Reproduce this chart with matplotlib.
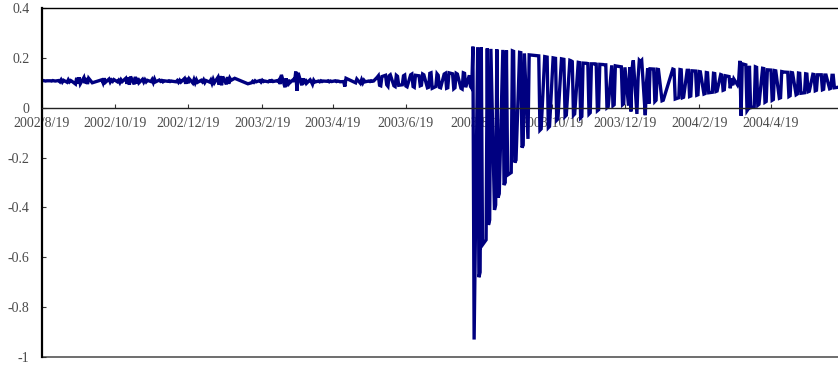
import matplotlib
matplotlib.use('Agg')
import matplotlib.pyplot as plt
import pandas as pd

# ---- data: business-day series, split where the market was closed ----
seg_starts = ['2002-08-19', '2002-10-08', '2003-02-07', '2003-05-08',
              '2003-10-08', '2004-01-28', '2004-05-03']

seg1 = [0.108, 0.109, 0.108, 0.107, 0.108,
        0.108, 0.107, 0.109, 0.108, 0.107,
        0.109, 0.104, 0.112, 0.103, 0.110,
        0.102, 0.112, 0.104, 0.109, 0.106,
        0.095, 0.120, 0.097, 0.122, 0.096,
        0.121, 0.098, 0.119, 0.095, 0.118,
        0.100]

seg2 = [0.112, 0.100, 0.118, 0.102,
        0.115, 0.103, 0.111, 0.106, 0.113,
        0.104, 0.110, 0.101, 0.112, 0.105,
        0.118, 0.096, 0.122, 0.092, 0.125,
        0.094, 0.124, 0.097, 0.119, 0.100,
        0.114, 0.103, 0.112, 0.104, 0.110,
        0.105, 0.113, 0.101, 0.115, 0.104,
        0.111, 0.106, 0.109, 0.104, 0.108,
        0.106, 0.108, 0.105, 0.107, 0.106,
        0.104, 0.109, 0.102, 0.110, 0.103,
        0.117, 0.096, 0.120, 0.098, 0.116,
        0.099, 0.113, 0.100, 0.112, 0.102,
        0.110, 0.104, 0.112, 0.101, 0.109,
        0.103, 0.111, 0.098, 0.113, 0.100,
        0.122, 0.092, 0.127, 0.090, 0.125,
        0.094, 0.123, 0.096, 0.118, 0.110,
        0.118]

seg3 = [0.096,
        0.100, 0.106, 0.102, 0.108, 0.104,
        0.109, 0.103, 0.110, 0.105, 0.107,
        0.104, 0.108, 0.106, 0.109, 0.105,
        0.108, 0.106, 0.112, 0.095, 0.132,
        0.082, 0.118, 0.086, 0.112, 0.100,
        0.113, 0.104, 0.145, 0.068, 0.140,
        0.090, 0.118, 0.095, 0.115, 0.098,
        0.112, 0.104, 0.094, 0.110, 0.103,
        0.107, 0.104, 0.108, 0.105, 0.107,
        0.106, 0.108, 0.104, 0.107, 0.105,
        0.108, 0.105, 0.107, 0.106, 0.104,
        0.105, 0.085, 0.118]

seg4 = [0.100, 0.115,
        0.098, 0.112, 0.100, 0.110, 0.104,
        0.107, 0.105, 0.108, 0.106, 0.107,
        0.122, 0.128, 0.090, 0.088, 0.125,
        0.130, 0.092, 0.086, 0.128, 0.132,
        0.088, 0.085, 0.130, 0.126, 0.090,
        0.092, 0.128, 0.131, 0.087, 0.084,
        0.132, 0.135, 0.085, 0.082, 0.130,
        0.128, 0.088, 0.090, 0.135, 0.132,
        0.080, 0.082, 0.138, 0.140, 0.078,
        0.085, 0.136, 0.130, 0.082, 0.080,
        0.135, 0.138, 0.078, 0.080, 0.140,
        0.136, 0.076, 0.080, 0.138, 0.135,
        0.078, 0.075, 0.140, 0.138, 0.082,
        0.130, 0.085, 0.078, 0.245, -0.930,
        0.243, -0.680, -0.660, 0.242, -0.550,
        -0.530, 0.238, -0.470, -0.450, 0.236,
        -0.410, -0.390, 0.234, -0.360, -0.345,
        0.232, -0.310, -0.300, 0.230, -0.270,
        -0.260, 0.228, 0.226, -0.220, -0.210,
        0.222, 0.221, -0.160, -0.150, 0.218,
        -0.125, 0.212]

seg5 = [0.208, -0.090, -0.085,
        0.205, 0.204, 0.203, -0.080, -0.075,
        0.200, 0.199, 0.198, -0.050, -0.045,
        0.196, 0.195, 0.194, -0.035, -0.030,
        0.190, 0.188, 0.185, -0.030, -0.025,
        0.182, 0.181, -0.040, -0.035, 0.179,
        0.178, 0.177, -0.025, -0.020, 0.176,
        0.176, 0.175, -0.012, -0.008, 0.174,
        0.173, 0.172, 0.172, 0.000, 0.004,
        0.170, 0.008, 0.012, 0.168, 0.167,
        0.165, 0.164, 0.012, 0.016, 0.162,
        0.008, 0.162, -0.015, 0.160, 0.190,
        -0.025, 0.120, 0.190, 0.185, 0.190,
        -0.030, 0.100, 0.158, 0.016, 0.156,
        0.155, 0.025, 0.030, 0.154, 0.153,
        0.028, 0.030]

seg6 = [0.155, 0.153, 0.035,
        0.040, 0.153, 0.152, 0.040, 0.042,
        0.150, 0.150, 0.045, 0.047, 0.148,
        0.147, 0.050, 0.052, 0.145, 0.144,
        0.055, 0.057, 0.141, 0.140, 0.060,
        0.062, 0.138, 0.137, 0.065, 0.067,
        0.133, 0.131, 0.070, 0.072, 0.128,
        0.125, 0.078, 0.118, 0.090, 0.115,
        0.092, 0.110, 0.188, -0.032, 0.176,
        0.172, -0.012, -0.005, 0.168, 0.000,
        0.004, 0.164, 0.162, 0.010, 0.014,
        0.158, 0.157, 0.022, 0.025, 0.152,
        0.151, 0.030, 0.033, 0.149, 0.148,
        0.038, 0.040, 0.145, 0.144, 0.143]

seg7 = [0.142, 0.045, 0.048, 0.141, 0.140,
        0.052, 0.055, 0.139, 0.138, 0.058,
        0.060, 0.136, 0.135, 0.064, 0.066,
        0.134, 0.133, 0.068, 0.070, 0.132,
        0.132, 0.072, 0.074, 0.131, 0.131,
        0.076, 0.078, 0.130, 0.130, 0.080,
        0.082]

segments = [seg1, seg2, seg3, seg4, seg5, seg6, seg7]

tick_dates = ['2002-08-19', '2002-10-19', '2002-12-19', '2003-02-19',
              '2003-04-19', '2003-06-19', '2003-08-19', '2003-10-19',
              '2003-12-19', '2004-02-19', '2004-04-19']
tick_labels = ['2002/8/19', '2002/10/19', '2002/12/19', '2003/2/19',
               '2003/4/19', '2003/6/19', '2003/8/19', '2003/10/19',
               '2003/12/19', '2004/2/19', '2004/4/19']
y_ticks = [-1, -0.8, -0.6, -0.4, -0.2, 0, 0.2, 0.4]
y_labels = ['-1', '-0.8', '-0.6', '-0.4', '-0.2', '0', '0.2', '0.4']

# ---- build series ----
dates, values = [], []
for start, vals in zip(seg_starts, segments):
    dates.extend(pd.bdate_range(start, periods=len(vals)))
    values.extend(vals)

plt.rcParams['font.family'] = ['Liberation Serif', 'DejaVu Serif']

fig = plt.figure(figsize=(8.38, 3.66), dpi=100)
ax = fig.add_axes([42 / 838, 9 / 366, 796 / 838, 349 / 366])

ax.plot(dates, values, color='#000080', lw=2.4, solid_joinstyle='miter')

ax.set_xlim(pd.Timestamp('2002-08-19'), pd.Timestamp('2004-06-14'))
ax.set_ylim(-1, 0.4)

ax.set_xticks(pd.to_datetime(tick_dates), labels=tick_labels)
ax.set_yticks(y_ticks, labels=y_labels)

label_color = '#4a4a4a'
ax.tick_params(axis='x', direction='in', length=3, width=0.8, pad=7,
               labelsize=10, labelcolor=label_color, color='#333333')
ax.tick_params(axis='y', direction='in', length=3, width=0.8, pad=9,
               labelsize=10, labelcolor=label_color, color='#333333')

ax.spines['bottom'].set_position(('data', 0))
ax.spines['bottom'].set_color('#222222')
ax.spines['bottom'].set_linewidth(1.0)
ax.spines['left'].set_color('black')
ax.spines['left'].set_linewidth(1.6)
ax.spines['top'].set_color('black')
ax.spines['top'].set_linewidth(1.0)
ax.spines['right'].set_visible(False)

ax.axhline(-1, color='#555555', lw=1.2, clip_on=False, zorder=0.5)

fig.savefig('out.png', dpi=100)
